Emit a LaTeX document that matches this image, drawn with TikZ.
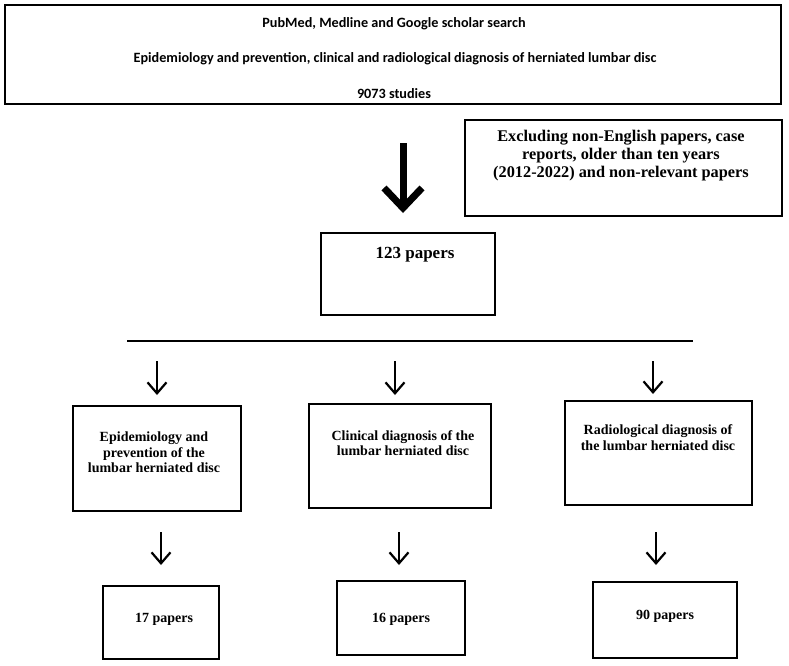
\documentclass[tikz,border=0pt]{standalone}
\usepackage{fontspec}
\setmainfont{Liberation Serif}
\newfontfamily\calfont{Carlito}
\usetikzlibrary{arrows.meta}
\tikzset{
  box/.style={draw, line width=2.2pt, inner sep=0pt},
  searchtext/.style={font=\calfont\bfseries\fontsize{14.2}{16}\selectfont},
  boxtext/.style={align=center, font=\bfseries\fontsize{14}{15.5}\selectfont},
  bigtext/.style={align=center, font=\bfseries\fontsize{16.3}{18}\selectfont},
  bigarrow/.style={line width=7pt, -{Straight Barb[length=20pt,width=38pt]}},
  smallarrow/.style={line width=2.2pt, -{Straight Barb[length=11pt,width=19pt]}},
}
\begin{document}
\begin{tikzpicture}[x=1pt,y=-1pt]
\useasboundingbox (0,0) rectangle (789,665);
% search
\node[box, minimum width=776pt, minimum height=99pt] (search) at (393,54.5) {};
\node[searchtext] (src) at (394,24) {PubMed, Medline and Google scholar search};
\node[searchtext] (topic) at (395,59) {Epidemiology and prevention, clinical and radiological diagnosis of herniated lumbar disc};
\node[searchtext] (studies) at (394,94) {9073 studies};
% exclusion
\node[box, minimum width=317pt, minimum height=96pt] (excl) at (623.5,168) {};
\node[bigtext] (excltxt) at (621,155.5) {Excluding non-English papers, case\\reports, older than ten years\\(2012-2022) and non-relevant papers};
\coordinate (bigs) at (403,143);
\coordinate (bige) at (403,213);
\draw[bigarrow] (bigs) -- (bige);
% selected
\node[box, minimum width=174pt, minimum height=82pt] (total) at (408,274) {};
\node[bigtext, font=\bfseries\fontsize{17}{19}\selectfont] (totaltxt) at (415,255) {123 papers};
\coordinate (hl) at (127,341);
\coordinate (hr) at (693,341);
\draw[line width=2.5pt] (hl) -- (hr);
% topics
\foreach \x/\y in {157/395, 395/395, 653/394}
  \draw[smallarrow] (\x,361) -- (\x,\y);
\node[box, minimum width=168pt, minimum height=105pt] (epi) at (157,458.5) {};
\node[boxtext] (epitxt) at (154,452.5) {Epidemiology and\\prevention of the\\lumbar herniated disc};
\node[box, minimum width=182pt, minimum height=104pt] (clin) at (400,456) {};
\node[boxtext] (clintxt) at (403,443) {Clinical diagnosis of the\\lumbar herniated disc};
\node[box, minimum width=187pt, minimum height=104pt] (radio) at (658.5,453) {};
\node[boxtext] (radiotxt) at (658,437.5) {Radiological diagnosis of\\the lumbar herniated disc};
% counts
\foreach \x in {161, 399, 656}
  \draw[smallarrow] (\x,532) -- (\x,565);
\node[box, minimum width=116pt, minimum height=73pt] (epin) at (161,622.5) {};
\node[boxtext] (epintxt) at (164,619) {17 papers};
\node[box, minimum width=128pt, minimum height=74pt] (clinn) at (401,618) {};
\node[boxtext] (clinntxt) at (401,619) {16 papers};
\node[box, minimum width=144pt, minimum height=76pt] (radion) at (665,620) {};
\node[boxtext] (radiontxt) at (665,616) {90 papers};
\end{tikzpicture}
\end{document}
